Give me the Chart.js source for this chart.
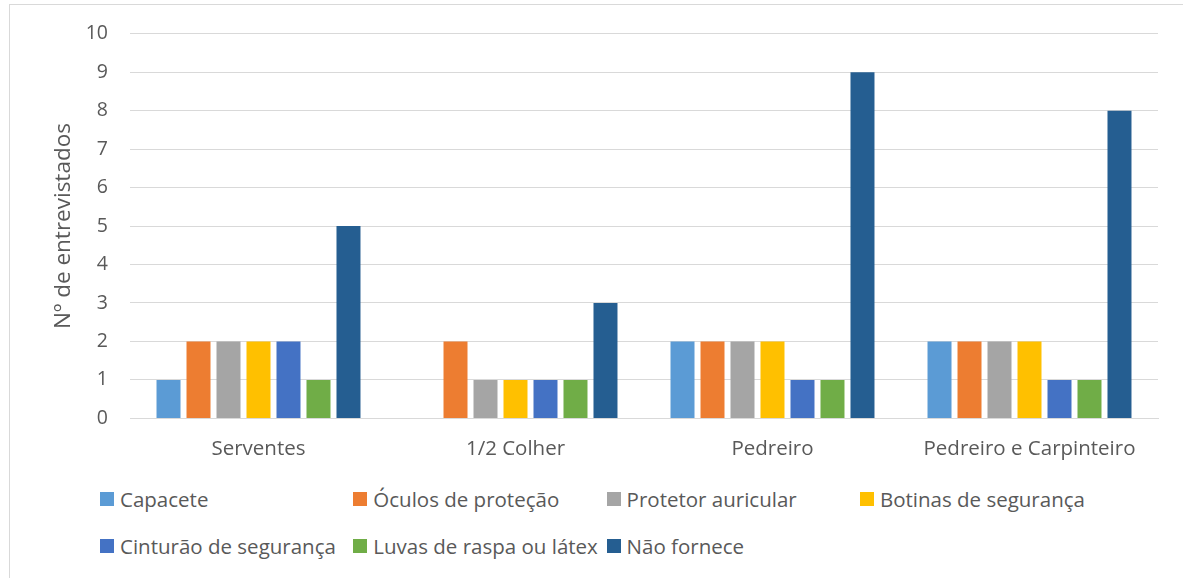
<!DOCTYPE html>
<html>
<head>
<meta charset="utf-8">
<script src="https://cdn.jsdelivr.net/npm/chart.js@4"></script>
<style>
  html, body { margin:0; padding:0; background:#fff; width:1183px; height:578px; overflow:hidden; font-family:"Open Sans", sans-serif; }
  #frame { position:absolute; left:9px; top:4px; width:1200px; height:600px; border-left:1px solid #d9d9d9; border-top:1px solid #d9d9d9; }
  #wrap { position:absolute; left:0; top:0; width:1183px; height:479px; }
  #legend { position:absolute; left:100px; top:485px; display:grid; grid-template-columns:253.3px 253.3px 253.3px 253.3px; row-gap:19px; }
  .item { display:flex; align-items:center; font-size:20.5px; color:#595959; height:28px; white-space:nowrap; }
  .box { width:14px; height:14px; margin-right:6px; flex:none; }
</style>
</head>
<body>
<div id="frame"></div>
<div id="wrap"><canvas id="c"></canvas></div>
<div id="legend"></div>
<script>
const CATEGORIES = ['Serventes', '1/2 Colher', 'Pedreiro', 'Pedreiro e Carpinteiro'];
const SERIES = ['Capacete','Óculos de proteção','Protetor auricular','Botinas de segurança','Cinturão de segurança','Luvas de raspa ou látex','Não fornece'];
const COLORS = ['#5B9BD5','#ED7D31','#A5A5A5','#FFC000','#4472C4','#70AD47','#255E91'];
const CAPACETE   = [1, 0, 2, 2];
const OCULOS     = [2, 2, 2, 2];
const PROTETOR   = [2, 1, 2, 2];
const BOTINAS    = [2, 1, 2, 2];
const CINTURAO   = [2, 1, 1, 1];
const LUVAS      = [1, 1, 1, 1];
const NAO_FORNECE = [5, 3, 9, 8];
const VALUES = [CAPACETE, OCULOS, PROTETOR, BOTINAS, CINTURAO, LUVAS, NAO_FORNECE];
const Y_TICKS = [0,1,2,3,4,5,6,7,8,9,10];

const datasets = SERIES.map((label, i) => ({
  label, data: VALUES[i], backgroundColor: COLORS[i], borderWidth: 0,
  categoryPercentage: 0.817, barPercentage: 0.8,
}));

// legend laid out like the Excel one (4 equal columns)
document.getElementById('legend').innerHTML = SERIES.map((s, i) =>
  `<div class="item"><span class="box" style="background:${COLORS[i]}"></span>${s}</div>`
).join('');

new Chart(document.getElementById('c'), {
  type: 'bar',
  data: { labels: CATEGORIES, datasets },
  options: {
    responsive: true, maintainAspectRatio: false, animation: false,
    layout: { padding: { left: 50, right: 25, top: 22, bottom: 0 } },
    plugins: { legend: { display: false }, tooltip: { enabled: false } },
    scales: {
      x: {
        grid: { display: false, drawTicks: false },
        border: { display: true, color: '#d9d9d9', width: 1 },
        ticks: { font: { family: 'Open Sans', size: 20.5 }, color: '#595959', padding: 18 },
      },
      y: {
        min: 0, max: 10,
        afterBuildTicks: ax => { ax.ticks = Y_TICKS.map(v => ({ value: v })); },
        afterFit: ax => { ax.width = 80; },
        grid: { color: '#d9d9d9', lineWidth: 1, drawTicks: false },
        border: { display: false },
        ticks: { font: { family: 'Open Sans', size: 19.5 }, color: '#595959', padding: 22 },
        title: { display: true, text: 'Nº de entrevistados', font: { family: 'Open Sans', size: 22.5 }, color: '#595959', padding: { top: 0, bottom: 8 } },
      },
    },
  },
});
</script>
</body>
</html>
